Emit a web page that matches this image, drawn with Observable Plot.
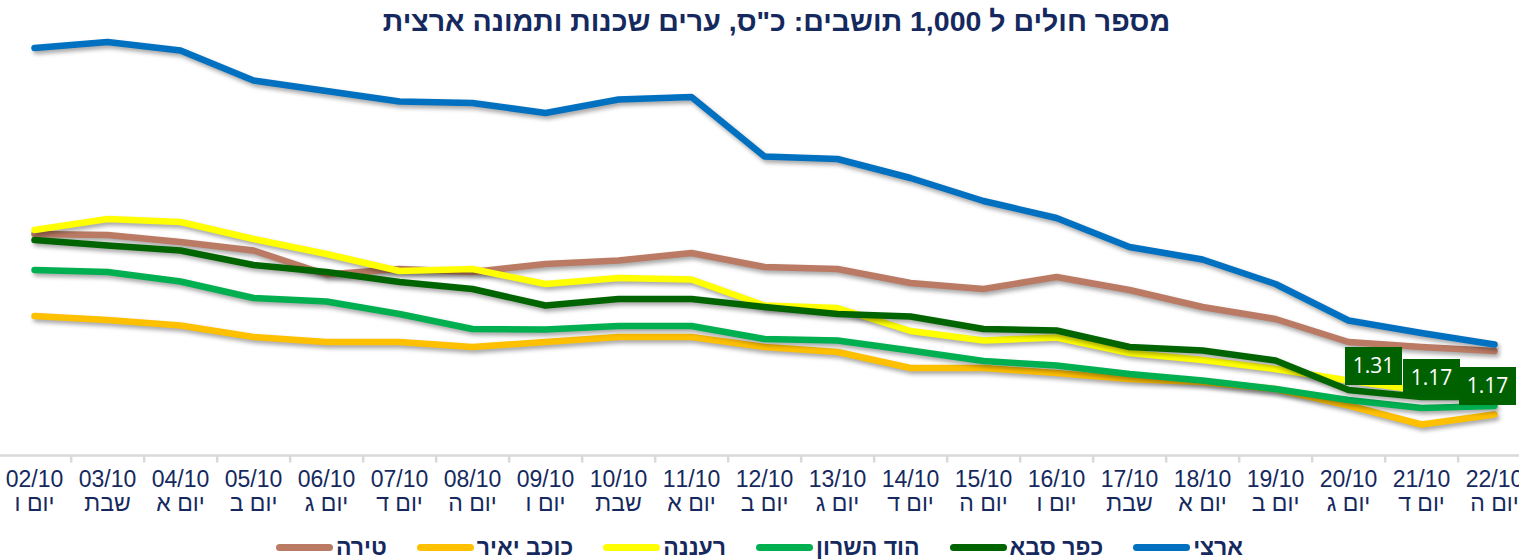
<!DOCTYPE html>
<html lang="he">
<head>
<meta charset="utf-8">
<script src="https://cdn.jsdelivr.net/npm/d3@7"></script>
<script src="https://cdn.jsdelivr.net/npm/@observablehq/plot@0.6"></script>
<style>
  html, body { margin: 0; padding: 0; background: #ffffff; }
  #wrap { position: relative; width: 1519px; height: 560px; overflow: hidden; font-family: "Liberation Sans", Arial, sans-serif; }
  #chart { position: absolute; left: 0; top: 0; }
  #title { position: absolute; top: 5px; left: 0; width: 1519px; box-sizing: border-box; padding-left: 34px; text-align: center;
           white-space: nowrap; direction: rtl; font-weight: bold; font-size: 28.5px; color: #15295e; }
  #legend { position: absolute; top: 534px; left: 0; width: 1519px; display: flex; justify-content: center;
            direction: rtl; gap: 30px; font-weight: bold; font-size: 23px; color: #15295e; }
  .item { display: flex; align-items: center; gap: 3px; line-height: 26px; }
  .sw { width: 57px; height: 7px; border-radius: 4px; display: inline-block; }
  .series-line path { filter: drop-shadow(2px 3px 2px rgba(0,0,0,0.35)); }
</style>
</head>
<body>
<div id="wrap">
  <div id="chart"></div>
  <div id="title">מספר חולים ל 1,000 תושבים: כ"ס, ערים שכנות ותמונה ארצית</div>
  <div id="legend"></div>
</div>
<script>
// ---- data ----
const dates = ["02/10","03/10","04/10","05/10","06/10","07/10","08/10","09/10","10/10","11/10","12/10",
               "13/10","14/10","15/10","16/10","17/10","18/10","19/10","20/10","21/10","22/10"];
const days = ["יום ו","שבת","יום א","יום ב","יום ג","יום ד","יום ה","יום ו","שבת","יום א","יום ב",
              "יום ג","יום ד","יום ה","יום ו","שבת","יום א","יום ב","יום ג","יום ד","יום ה"];

const seriesNames = ["ארצי","כפר סבא","הוד השרון","רעננה","כוכב יאיר","טירה"];
const seriesColors = ["#0070C0","#006400","#00B050","#FFFF00","#FFC000","#BA7A64"];

const national    = [8.15,8.27,8.10,7.50,7.29,7.08,7.05,6.85,7.12,7.17,5.98,5.93,5.55,5.09,4.75,4.17,3.92,3.43,2.70,2.45,2.22];
const kfarSaba    = [4.31,4.20,4.10,3.81,3.67,3.47,3.33,3.00,3.13,3.13,2.97,2.83,2.78,2.53,2.50,2.17,2.10,1.90,1.31,1.17,1.17];
const hodHasharon = [3.71,3.67,3.48,3.15,3.08,2.83,2.53,2.52,2.59,2.59,2.33,2.30,2.10,1.89,1.80,1.63,1.50,1.33,1.11,0.95,0.99];
const raanana     = [4.51,4.73,4.67,4.33,4.03,3.69,3.73,3.43,3.55,3.52,3.00,2.95,2.49,2.30,2.36,2.05,1.91,1.73,1.50,1.30,1.25];
const kochavYair  = [2.79,2.71,2.60,2.37,2.27,2.27,2.17,2.27,2.37,2.37,2.17,2.07,1.75,1.75,1.65,1.53,1.47,1.33,1.00,0.62,0.82];
const tira        = [4.43,4.41,4.27,4.10,3.62,3.73,3.67,3.83,3.90,4.05,3.77,3.73,3.45,3.33,3.57,3.31,2.97,2.73,2.27,2.17,2.09];

const labelDates = ["20/10","21/10","22/10"];   // data labels shown for כפר סבא

// ---- build tables ----
const seriesValues = [national, kfarSaba, hodHasharon, raanana, kochavYair, tira];
const series = seriesNames.map((name, k) => ({
  name, color: seriesColors[k],
  rows: dates.map((d, i) => ({date: d, value: seriesValues[k][i], series: name}))
}));
const ticks = dates.map((d, i) => ({date: d, day: days[i]}));
const labelRows = series[1].rows.filter(r => labelDates.includes(r.date));

// ---- layout ----
const W = 1519, H = 560;
const xRange = [30.7, 1496.7];
const halfStep = (xRange[1] - xRange[0]) / (dates.length - 1) / 2;
const labelNudge = [[25, -24], [10, -19], [-7, -11]];
const boxSymbol = { draw(ctx) { ctx.rect(-28.5, -19, 57, 38); } };
const font = "Liberation Sans, Arial, sans-serif";

// draw order: last legend item at bottom, first on top
const drawOrder = series.slice().reverse();

const marks = [
  Plot.ruleY([0], {stroke: "#d9d9d9", strokeWidth: 2.5}),
  Plot.ruleX(dates.slice(0, -1), {x: d => d, y1: 0, y2: -0.15, dx: halfStep, stroke: "#d9d9d9", strokeWidth: 2.5}),
  Plot.text(ticks, {x: "date", y: 0, dy: 14, text: d => d.date + "\n" + d.day, lineAnchor: "top",
                    lineHeight: 1.05, fontSize: 23, fill: "#15295e", fontFamily: font}),
  ...drawOrder.map(s => Plot.line(s.rows, {x: "date", y: "value", stroke: s.color, strokeWidth: 6.5,
                    strokeLinecap: "round", strokeLinejoin: "round", className: "series-line"})),
  ...labelRows.map((r, i) => Plot.dot([r], {x: "date", y: "value", symbol: boxSymbol, r: 5, fill: "#006100",
                    stroke: "none", dx: labelNudge[i][0], dy: labelNudge[i][1]})),
  ...labelRows.map((r, i) => Plot.text([r], {x: "date", y: "value", text: d => d.value.toFixed(2), fill: "white",
                    fontSize: 21, fontFamily: "Open Sans, Liberation Sans, sans-serif",
                    dx: labelNudge[i][0], dy: labelNudge[i][1]}))
];

const chart = Plot.plot({
  width: W, height: H,
  marginLeft: 0, marginRight: 0, marginTop: 0, marginBottom: 0,
  x: {type: "point", domain: dates, range: xRange, padding: 0, axis: null},
  y: {domain: [0, 9], range: [455, 5], axis: null},
  style: {background: "white", fontFamily: font, overflow: "visible"},
  marks
});
document.getElementById("chart").appendChild(chart);

// ---- legend ----
const legend = document.getElementById("legend");
series.forEach(s => {
  const item = document.createElement("div");
  item.className = "item";
  const t = document.createElement("span");
  t.textContent = s.name;
  const sw = document.createElement("span");
  sw.className = "sw";
  sw.style.background = s.color;
  item.appendChild(t);
  item.appendChild(sw);
  legend.appendChild(item);
});
</script>
</body>
</html>
